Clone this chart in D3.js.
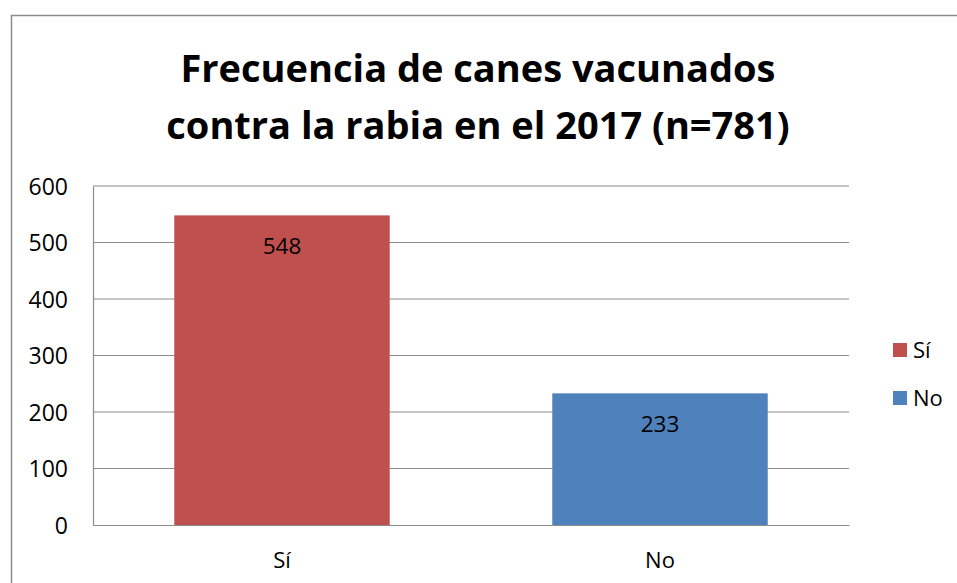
<!DOCTYPE html>
<html>
<head>
    <meta charset="utf-8">
    <script src="https://d3js.org/d3.v7.min.js"></script>
    <style>
        body { margin: 0; background: white; }
        text { font-family: "Open Sans", "Liberation Sans", sans-serif; fill: #000; }
    </style>
</head>
<body>
    <script>
        var categories = ["Sí", "No"]
        var values = [548, 233]
        var colors = ["#c0504d", "#4f81bd"]
        var yTicks = [0, 100, 200, 300, 400, 500, 600]
        var titleLines = ["Frecuencia de canes vacunados", "contra la rabia en el 2017 (n=781)"]

        var w = 957, h = 583
        var svg = d3.select('body').append('svg')
            .attr('width', w).attr('height', h)

        // chart border (cut off at right and bottom)
        svg.append("rect")
            .attr("x", 11.5).attr("y", 15.5)
            .attr("width", w).attr("height", h)
            .attr("fill", "white")
            .attr("stroke", "#8c8c8c")
            .attr("stroke-width", 1.5)

        // title
        svg.selectAll(".title")
            .data(titleLines)
            .enter().append("text")
            .attr("x", 478)
            .attr("y", (d, i) => 82 + i * 57)
            .attr("text-anchor", "middle")
            .attr("font-size", "38px")
            .attr("font-weight", "bold")
            .text(d => d)

        var xscale = d3.scaleBand()
            .domain(categories)
            .range([93, 849])
            .paddingInner(0.43)
            .paddingOuter(0.215)

        var yscale = d3.scaleLinear()
            .domain([0, 600])
            .range([525, 186])

        // gridlines
        svg.append("g")
            .selectAll("line")
            .data(yTicks.filter(d => d > 0))
            .enter().append("line")
            .attr("x1", 93).attr("x2", 849)
            .attr("y1", d => yscale(d)).attr("y2", d => yscale(d))
            .attr("stroke", "#8c8c8c")
            .attr("stroke-width", 1.2)

        // axes
        var yAxis = svg.append("g")
            .attr("transform", "translate(93,0)")
            .call(d3.axisLeft(yscale).tickValues(yTicks).tickSize(0).tickPadding(25))
        yAxis.select(".domain").attr("stroke", "#8c8c8c").attr("stroke-width", 1.2)
        yAxis.selectAll("text").attr("font-size", "23px").attr("dy", "0.35em")
            .style("font-family", "'Open Sans', sans-serif")

        var xAxis = svg.append("g")
            .attr("transform", "translate(0,525)")
            .call(d3.axisBottom(xscale).tickSize(0).tickPadding(27))
        xAxis.select(".domain").attr("stroke", "#8c8c8c").attr("stroke-width", 1.2)
        xAxis.selectAll("text").attr("font-size", "22px")
            .style("font-family", "'Open Sans', sans-serif")

        // bars
        svg.selectAll(".bar")
            .data(values)
            .enter().append("rect")
            .attr("x", (d, i) => xscale(categories[i]))
            .attr("y", d => yscale(d))
            .attr("width", xscale.bandwidth())
            .attr("height", d => yscale(0) - yscale(d))
            .attr("fill", (d, i) => colors[i])

        // data labels
        svg.selectAll(".lbl")
            .data(values)
            .enter().append("text")
            .attr("x", (d, i) => xscale(categories[i]) + xscale.bandwidth() / 2)
            .attr("y", d => yscale(d) + 39)
            .attr("text-anchor", "middle")
            .attr("font-size", "22.5px")
            .text(d => d)

        // legend
        var legend = svg.selectAll(".leg")
            .data(categories)
            .enter().append("g")
            .attr("transform", (d, i) => "translate(893," + (343 + i * 48) + ")")
        legend.append("rect")
            .attr("width", 14).attr("height", 14)
            .attr("fill", (d, i) => colors[i])
        legend.append("text")
            .attr("x", 20).attr("y", 15)
            .attr("font-size", "22px")
            .text(d => d)
    </script>
</body>
</html>
